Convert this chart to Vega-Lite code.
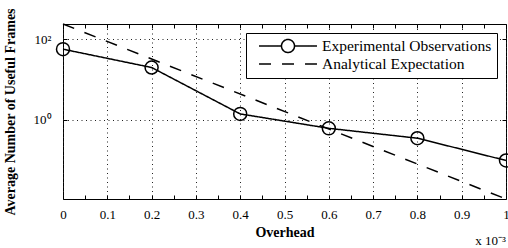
{
  "$schema": "https://vega.github.io/schema/vega-lite/v6.json",
  "width": 443,
  "height": 175,
  "autosize": {"type": "none"},
  "padding": {"left": 63, "top": 24, "right": 2, "bottom": 49},
  "background": "white",
  "config": {
    "font": "Liberation Serif",
    "view": {"stroke": "black", "strokeWidth": 1},
    "axis": {"labelFont": "Liberation Serif", "labelFontSize": 13, "labelColor": "black", "titleFont": "Liberation Serif", "titleColor": "black", "tickColor": "black", "tickWidth": 1, "domain": false},
    "legend": {
      "orient": "top-right", "offset": 9, "strokeColor": "black", "fillColor": "white", "padding": 5,
      "labelFont": "Liberation Serif", "labelFontSize": 15.5, "labelColor": "black", "labelLimit": 400,
      "symbolSize": 196, "symbolStrokeWidth": 1.5, "symbolStrokeColor": "black", "symbolFillColor": "transparent",
      "symbolOffset": 29, "labelOffset": 26, "rowPadding": -7, "symbolOpacity": 1
    }
  },
  "title": {"text": "x 10⁻³", "orient": "bottom", "anchor": "end", "frame": "group", "font": "Liberation Serif", "fontSize": 13, "fontWeight": "normal", "color": "black", "offset": -4},
  "data": {
    "values": [
      {"x": 0, "y": 56.6, "series": "Experimental Observations"},
      {"x": 0.2, "y": 19.9, "series": "Experimental Observations"},
      {"x": 0.4, "y": 1.41, "series": "Experimental Observations"},
      {"x": 0.6, "y": 0.62, "series": "Experimental Observations"},
      {"x": 0.8, "y": 0.353, "series": "Experimental Observations"},
      {"x": 1, "y": 0.099, "series": "Experimental Observations"},
      {"x": 0, "y": 238, "series": "Analytical Expectation"},
      {"x": 1, "y": 0.011, "series": "Analytical Expectation"}
    ]
  },
  "resolve": {"axis": {"x": "independent", "y": "independent"}},
  "layer": [
    {
      "mark": {"type": "line", "strokeWidth": 1.5, "color": "black"},
      "encoding": {
        "x": {"field": "x", "type": "quantitative", "scale": {"domain": [0, 1], "nice": false},
          "axis": {"orient": "bottom", "values": [0,0.05,0.1,0.15,0.2,0.25,0.3,0.35,0.4,0.45,0.5,0.55,0.6,0.65,0.7,0.75,0.8,0.85,0.9,0.95,1],
            "labelExpr": "round(datum.value*100) % 10 === 0 ? datum.value + '' : ''",
            "grid": true, "gridColor": "#222",
            "gridDash": {"condition": {"test": "round(datum.value*100) % 10 === 0", "value": [1, 3.5]}, "value": [0, 400]},
            "tickSize": -4, "labelPadding": 13, "labelFlush": false, "labelOverlap": false, "labelBound": false,
            "title": "Overhead", "titleFontWeight": "bold", "titleFontSize": 14, "titlePadding": 4}},
        "y": {"field": "y", "type": "quantitative", "scale": {"type": "log", "domain": [0.011, 238], "nice": false},
          "axis": {"orient": "left", "values": [1, 100],
            "labelExpr": "datum.value >= 100 ? '10²' : '10⁰'",
            "grid": true, "gridColor": "#222", "gridDash": [1, 3.5],
            "tickSize": -4, "labelPadding": 16,
            "title": "Average Number of Useful Frames", "titleFontWeight": "bold", "titleFontSize": 14, "titlePadding": 16}},
        "strokeDash": {"field": "series", "type": "nominal",
          "scale": {"domain": ["Experimental Observations", "Analytical Expectation"], "range": [[1, 0], [12, 11]]},
          "legend": {"title": null}}
      }
    },
    {
      "transform": [{"filter": "datum.series === 'Experimental Observations'"}],
      "mark": {"type": "point", "shape": "circle", "size": 169, "strokeWidth": 1.5, "color": "black", "filled": false, "opacity": 1},
      "encoding": {
        "x": {"field": "x", "type": "quantitative", "scale": {"domain": [0, 1], "nice": false},
          "axis": {"orient": "top", "values": [0,0.05,0.1,0.15,0.2,0.25,0.3,0.35,0.4,0.45,0.5,0.55,0.6,0.65,0.7,0.75,0.8,0.85,0.9,0.95,1],
            "labels": false, "tickSize": -4, "grid": false, "title": null}},
        "y": {"field": "y", "type": "quantitative", "scale": {"type": "log", "domain": [0.011, 238], "nice": false},
          "axis": {"orient": "right", "values": [1, 100], "labels": false, "tickSize": -4, "grid": false, "title": null}}
      }
    },
    {
      "mark": {"type": "point", "opacity": 0, "color": "black", "filled": false, "strokeWidth": 1.5},
      "encoding": {
        "x": {"field": "x", "type": "quantitative", "scale": {"domain": [0, 1], "nice": false}, "axis": null},
        "y": {"field": "y", "type": "quantitative", "scale": {"type": "log", "domain": [0.011, 238], "nice": false}, "axis": null},
        "shape": {"field": "series", "type": "nominal",
          "scale": {"domain": ["Experimental Observations", "Analytical Expectation"],
            "range": ["M-4.14,0L-0.93,0M0.93,0L4.14,0M-0.93,0A0.93,0.93,0,1,1,0.93,0A0.93,0.93,0,1,1,-0.93,0", "M-4.14,0L4.14,0"]},
          "legend": {"title": null}},
        "strokeDash": {"field": "series", "type": "nominal",
          "scale": {"domain": ["Experimental Observations", "Analytical Expectation"], "range": [[1, 0], [12, 11]]},
          "legend": {"title": null}}
      }
    }
  ]
}
